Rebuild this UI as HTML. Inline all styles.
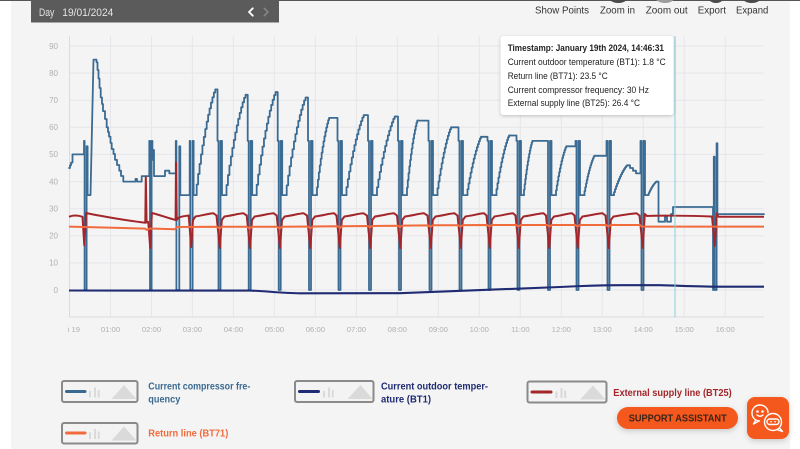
<!DOCTYPE html>
<html><head><meta charset="utf-8"><style>html,body{margin:0;padding:0;background:#fff}svg{display:block}</style></head>
<body>
<svg width="800" height="449" viewBox="0 0 800 449" xmlns="http://www.w3.org/2000/svg" font-family="'Liberation Sans', sans-serif">
<defs>
<filter id="sh" x="-10%" y="-10%" width="120%" height="130%"><feDropShadow dx="0" dy="1" stdDeviation="1.5" flood-color="#000" flood-opacity="0.22"/></filter>
<filter id="sh2" x="-30%" y="-30%" width="160%" height="180%"><feDropShadow dx="0" dy="2" stdDeviation="3" flood-color="#000" flood-opacity="0.18"/></filter>
</defs>
<rect width="800" height="449" fill="#fff"/>
<rect x="11" y="0" width="779" height="449" fill="#f4f4f4"/>
<rect x="0" y="0" width="800" height="1" fill="#555"/>

<!-- top bar -->
<rect x="31" y="0" width="248" height="22.5" fill="#5b5b5b"/>
<text x="39" y="15.9" font-size="10.8" fill="#e4e4e4" textLength="15.3" lengthAdjust="spacingAndGlyphs">Day</text>
<text x="62.3" y="15.9" font-size="10.8" fill="#e4e4e4" textLength="51" lengthAdjust="spacingAndGlyphs">19/01/2024</text>
<path d="M252.8 8.3 L249 12 L252.8 15.7" fill="none" stroke="#fff" stroke-width="1.8" stroke-linecap="round" stroke-linejoin="round"/>
<path d="M264.2 8.3 L268 12 L264.2 15.7" fill="none" stroke="#8a8a8a" stroke-width="1.4" stroke-linecap="round" stroke-linejoin="round"/>

<!-- top buttons -->
<ellipse cx="618.3" cy="-6" rx="11.7" ry="9" fill="#4a4a4a"/>
<ellipse cx="665" cy="-6" rx="11.7" ry="9" fill="#9c9c9c"/>
<ellipse cx="716" cy="-6" rx="9.5" ry="9" fill="#4a4a4a"/>
<ellipse cx="751.7" cy="-6" rx="11.7" ry="9" fill="#4a4a4a"/>
<g font-size="10" fill="#333">
<text x="535" y="13.6" textLength="54" lengthAdjust="spacingAndGlyphs">Show Points</text>
<text x="600" y="13.6" textLength="35" lengthAdjust="spacingAndGlyphs">Zoom in</text>
<text x="645.7" y="13.6" textLength="42" lengthAdjust="spacingAndGlyphs">Zoom out</text>
<text x="697.7" y="13.6" textLength="28.3" lengthAdjust="spacingAndGlyphs">Export</text>
<text x="736" y="13.6" textLength="32.3" lengthAdjust="spacingAndGlyphs">Expand</text>
</g>

<!-- grid -->
<g stroke="#e6e6ea" stroke-width="1">
<line x1="69.5" y1="46" x2="764" y2="46"/>
<line x1="69.5" y1="73.1" x2="764" y2="73.1"/>
<line x1="69.5" y1="100.2" x2="764" y2="100.2"/>
<line x1="69.5" y1="127.3" x2="764" y2="127.3"/>
<line x1="69.5" y1="154.4" x2="764" y2="154.4"/>
<line x1="69.5" y1="181.6" x2="764" y2="181.6"/>
<line x1="69.5" y1="208.7" x2="764" y2="208.7"/>
<line x1="69.5" y1="235.8" x2="764" y2="235.8"/>
<line x1="69.5" y1="262.9" x2="764" y2="262.9"/>
<line x1="69.5" y1="290" x2="764" y2="290"/>
<line x1="110.5" y1="36" x2="110.5" y2="317"/>
<line x1="151.5" y1="36" x2="151.5" y2="317"/>
<line x1="192.4" y1="36" x2="192.4" y2="317"/>
<line x1="233.4" y1="36" x2="233.4" y2="317"/>
<line x1="274.4" y1="36" x2="274.4" y2="317"/>
<line x1="315.4" y1="36" x2="315.4" y2="317"/>
<line x1="356.4" y1="36" x2="356.4" y2="317"/>
<line x1="397.3" y1="36" x2="397.3" y2="317"/>
<line x1="438.3" y1="36" x2="438.3" y2="317"/>
<line x1="479.3" y1="36" x2="479.3" y2="317"/>
<line x1="520.3" y1="36" x2="520.3" y2="317"/>
<line x1="561.3" y1="36" x2="561.3" y2="317"/>
<line x1="602.2" y1="36" x2="602.2" y2="317"/>
<line x1="643.2" y1="36" x2="643.2" y2="317"/>
<line x1="684.2" y1="36" x2="684.2" y2="317"/>
<line x1="725.2" y1="36" x2="725.2" y2="317"/>
</g>
<g stroke="#dcdce0" stroke-width="1">
<line x1="69.5" y1="36" x2="69.5" y2="317"/>
<line x1="69.5" y1="317" x2="764" y2="317"/>
</g>

<!-- axis labels -->
<g font-size="8" fill="#b0b0b0" text-anchor="end">
<text x="58" y="48.8">90</text>
<text x="58" y="75.9">80</text>
<text x="58" y="103">70</text>
<text x="58" y="130.1">60</text>
<text x="58" y="157.2">50</text>
<text x="58" y="184.4">40</text>
<text x="58" y="211.5">30</text>
<text x="58" y="238.6">20</text>
<text x="58" y="265.7">10</text>
<text x="58" y="292.8">0</text>
</g>
<g font-size="7.7" fill="#b0b0b0" text-anchor="middle">
<text x="73.8" y="332">i 19</text>
<text x="110.5" y="332">01:00</text>
<text x="151.5" y="332">02:00</text>
<text x="192.4" y="332">03:00</text>
<text x="233.4" y="332">04:00</text>
<text x="274.4" y="332">05:00</text>
<text x="315.4" y="332">06:00</text>
<text x="356.4" y="332">07:00</text>
<text x="397.3" y="332">08:00</text>
<text x="438.3" y="332">09:00</text>
<text x="479.3" y="332">10:00</text>
<text x="520.3" y="332">11:00</text>
<text x="561.3" y="332">12:00</text>
<text x="602.2" y="332">13:00</text>
<text x="643.2" y="332">14:00</text>
<text x="684.2" y="332">15:00</text>
<text x="725.2" y="332">16:00</text>
</g>

<!-- compressor frequency -->
<g fill="none" stroke="#3b6b92" stroke-width="1.8" stroke-linejoin="round" stroke-linecap="round">
<path d="M69 168 H70 V165.3 H71 V162.6 H72.5 V154.4 H84 V140.9 H84.6 V290 H86.6 V146.3 H87.6 V195.1 H90.5 L93.5 59.6 H96.5 V62.3 H97.5 V70 H98.5 V78.5 H99.5 V88 H100.7 V97.5 H102 V104 H103 V111.1 H105 V119 H106.7 V127.3 H108 V132 H109 V136.6 H110.5 V143 H111.7 V149 H113.5 V154 H115 V159.9 H117 V165 H119.3 V170.7 H121 V176 H123.3 V181.6 H135.5 V178.9 H137 V181.6 H141.7 V176.1 H149.3 V140.9 H150 V290 H151.6 V140.9 H152.4 V159.9 H153.2 V150 H154 V176.1 H165 V170.7 H169.3 V173.4 H175.8 V140.9 H176.4 V290 H179.3 V146.3 H180.3 V195.1 H189.7 V140.9 H190.3 V290 H192.6 V140.9 H193.6 V195.1 H196.7"/>
<path d="M216.7 89.4 H217.5 V140.9 H218.5 V290 H220.5 V140.9 H222 V146.3 V195.1 H226.5"/>
<path d="M247 94.8 H247.7 V140.9 H248.7 V290 H250.7 V140.9 H252.2 V146.3 V195.1 H256.7"/>
<path d="M277 92.1 H277.7 V140.9 H278.7 V290 H280.7 V140.9 H282.2 V146.3 V195.1 H286.7"/>
<path d="M307 97.5 H308 V140.9 H309 V290 H311 V140.9 H312.5 V146.3 V195.1 H317"/>
<path d="M330 117.9 H337.5 V140.9 H338.5 V290 H340.5 V140.9 H342 V146.3 V195.1 H346.5"/>
<path d="M365 115.1 H368 V140.9 H369 V290 H371 V140.9 H372.5 V146.3 V195.1 H377"/>
<path d="M396 116.5 H398 V140.9 H399 V290 H401 V140.9 H402.5 V146.3 V195.1 H407"/>
<path d="M418 120.6 H428.5 V140.9 H429.5 V290 H431.5 V140.9 H433 V146.3 V195.1 H437.5"/>
<path d="M452 127.3 H458.5 V140.9 H459.5 V290 H461.5 V140.9 H463 V146.3 V195.1 H467.5"/>
<path d="M482 136.8 H487.5 V140.9 H488.5 V290 H490.5 V140.9 H492 V146.3 V195.1 H496.5"/>
<path d="M510 135.5 H516.5 V140.9 H517.5 V290 H519.5 V140.9 H521 V146.3 V195.1 H524"/>
<path d="M533 140.9 H547 V140.9 H548 V290 H550 V140.9 H551.5 V146.3 V195.1 H556"/>
<path d="M567 146.3 H575.5 V140.9 H576.5 V290 H578.5 V140.9 H580 V146.3 V195.1 H584.5"/>
<path d="M595 155.8 H606.5 V140.9 H607.5 V290 H609.5 V140.9 H611 V146.3 V195.1 H614"/>
<path d="M628 165.3 H630 V168 H633 V170.7 H636 V173.4 H640.5 V140.9 H641.5 V290 H643.5 V140.9 H645 V146.3 V195.1 H648.5"/>
<path d="M657 181.6 H658.5 V221.7 H665 V216.8 H667 V221.7 H671 V214 H673 V207 H713 V290 H713.8 V156.7 H714.6 V290 H716.6 V143.3 H717.4 V214.1 H764"/>
<path vector-effect="non-scaling-stroke" transform="translate(196.7,195.1) scale(1.4286,-1.0573)" d="M0 0V10H1V20H2V29.5H3V38.5H4V47H5V55H6V62.5H7V69.5H8V76H9V82H10V87.5H11V92.5H12V97H13V100H14"/>
<path vector-effect="non-scaling-stroke" transform="translate(226.5,195.1) scale(1.464,-1.0031)" d="M0 0V10H1V20H2V29.5H3V38.5H4V47H5V55H6V62.5H7V69.5H8V76H9V82H10V87.5H11V92.5H12V97H13V100H14"/>
<path vector-effect="non-scaling-stroke" transform="translate(256.7,195.1) scale(1.45,-1.0302)" d="M0 0V10H1V20H2V29.5H3V38.5H4V47H5V55H6V62.5H7V69.5H8V76H9V82H10V87.5H11V92.5H12V97H13V100H14"/>
<path vector-effect="non-scaling-stroke" transform="translate(286.7,195.1) scale(1.45,-0.976)" d="M0 0V10H1V20H2V29.5H3V38.5H4V47H5V55H6V62.5H7V69.5H8V76H9V82H10V87.5H11V92.5H12V97H13V100H14"/>
<path vector-effect="non-scaling-stroke" transform="translate(317,195.1) scale(0.9286,-0.7726)" d="M0 0V10H1V20H2V29.5H3V38.5H4V47H5V55H6V62.5H7V69.5H8V76H9V82H10V87.5H11V92.5H12V97H13V100H14"/>
<path vector-effect="non-scaling-stroke" transform="translate(346.5,195.1) scale(1.321,-0.7997)" d="M0 0V10H1V20H2V29.5H3V38.5H4V47H5V55H6V62.5H7V69.5H8V76H9V82H10V87.5H11V92.5H12V97H13V100H14"/>
<path vector-effect="non-scaling-stroke" transform="translate(377,195.1) scale(1.357,-0.7862)" d="M0 0V10H1V20H2V29.5H3V38.5H4V47H5V55H6V62.5H7V69.5H8V76H9V82H10V87.5H11V92.5H12V97H13V100H14"/>
<path vector-effect="non-scaling-stroke" transform="translate(407,195.1) scale(0.786,-0.7455)" d="M0 0V10H1V20H2V29.5H3V38.5H4V47H5V55H6V62.5H7V69.5H8V76H9V82H10V87.5H11V92.5H12V97H13V100H14"/>
<path vector-effect="non-scaling-stroke" transform="translate(437.5,195.1) scale(1.036,-0.6778)" d="M0 0V10H1V20H2V29.5H3V38.5H4V47H5V55H6V62.5H7V69.5H8V76H9V82H10V87.5H11V92.5H12V97H13V100H14"/>
<path vector-effect="non-scaling-stroke" transform="translate(467.5,195.1) scale(1.036,-0.5829)" d="M0 0V10H1V20H2V29.5H3V38.5H4V47H5V55H6V62.5H7V69.5H8V76H9V82H10V87.5H11V92.5H12V97H13V100H14"/>
<path vector-effect="non-scaling-stroke" transform="translate(496.5,195.1) scale(0.964,-0.5964)" d="M0 0V10H1V20H2V29.5H3V38.5H4V47H5V55H6V62.5H7V69.5H8V76H9V82H10V87.5H11V92.5H12V97H13V100H14"/>
<path vector-effect="non-scaling-stroke" transform="translate(524,195.1) scale(0.643,-0.5422)" d="M0 0V10H1V20H2V29.5H3V38.5H4V47H5V55H6V62.5H7V69.5H8V76H9V82H10V87.5H11V92.5H12V97H13V100H14"/>
<path vector-effect="non-scaling-stroke" transform="translate(556,195.1) scale(0.786,-0.488)" d="M0 0V10H1V20H2V29.5H3V38.5H4V47H5V55H6V62.5H7V69.5H8V76H9V82H10V87.5H11V92.5H12V97H13V100H14"/>
<path vector-effect="non-scaling-stroke" transform="translate(584.5,195.1) scale(0.75,-0.3931)" d="M0 0V10H1V20H2V29.5H3V38.5H4V47H5V55H6V62.5H7V69.5H8V76H9V82H10V87.5H11V92.5H12V97H13V100H14"/>
<path vector-effect="non-scaling-stroke" transform="translate(614,195.1) scale(1,-0.2982)" d="M0 0V10H1V20H2V29.5H3V38.5H4V47H5V55H6V62.5H7V69.5H8V76H9V82H10V87.5H11V92.5H12V97H13V100H14"/>
<path vector-effect="non-scaling-stroke" transform="translate(648.5,195.1) scale(0.607,-0.1356)" d="M0 0V10H1V20H2V29.5H3V38.5H4V47H5V55H6V62.5H7V69.5H8V76H9V82H10V87.5H11V92.5H12V97H13V100H14"/>
</g>

<!-- outdoor temp -->
<path d="M69 290.5 L250 290.6 C265 291 280 293 300 293.3 L400 293.2 L560 287 C580 286 600 285.3 620 285.2 L660 285.2 C680 285.7 700 286.5 720 286.7 L764 286.7" fill="none" stroke="#1f2b72" stroke-width="2.1"/>

<!-- external supply -->
<path fill="none" stroke="#a3262a" stroke-width="2" stroke-linejoin="round" d="M69 216.8 C72 215.5 77 215 82.5 216.8 L84.3 245.3 L86.2 213 C100 216 130 221 145.3 222.7 L145.8 177.2 L146.6 222.5 L148.3 222 L150.2 248 L151.9 213 C160 215 168 218 175.6 220 L176 162.6 L176.8 220 L178 218 C182 216 186 216 188.7 215.5 L191.2 247 L193 220 L195.5 216.5 C202 215.5 209 213.5 213.5 213.3
L216.5 215.5 L219.8 248 L221.8 220 L224.5 216.5 C231.5 215.5 239.5 213.5 243.5 213.3
L246.7 215.5 L250 248 L252 220 L254.7 216.5 C261.7 215.5 269.7 213.5 273.7 213.3
L276.7 215.5 L280 248 L282 220 L284.7 216.5 C291.7 215.5 299.7 213.5 303.7 213.3
L307 215.5 L310.3 248 L312.3 220 L315 216.5 C322 215.5 330 213.5 334 213.3
L336.5 215.5 L339.8 248 L341.8 220 L344.5 216.5 C351.5 215.5 359.5 213.5 363.5 213.3
L367 215.5 L370.3 248 L372.3 220 L375 216.5 C382 215.5 390 213.5 394 213.3
L397 215.5 L400.3 248 L402.3 220 L405 216.5 C412 215.5 420 213.5 424 213.3
L427.5 215.5 L430.8 248 L432.8 220 L435.5 216.5 C442.5 215.5 450.5 213.5 454.5 213.3
L457.5 215.5 L460.8 248 L462.8 220 L465.5 216.5 C472.5 215.5 480 213.5 484 213.3
L486.5 215.5 L489.8 248 L491.8 220 L494.5 216.5 C501.5 215.5 509 213.5 513 213.3
L515.5 215.5 L518.8 248 L520.8 220 L523.5 216.5 C530.5 215.5 539 213.5 543.5 213.3
L546 215.5 L549.3 248 L551.3 220 L554 216.5 C561 215.5 568 213.5 572 213.3
L574.5 215.5 L577.8 248 L579.8 220 L582.5 216.5 C589.5 215.5 598 213.5 602.5 213.3
L605.5 215.5 L608.8 248 L610.8 220 L613.5 216.5 C620.5 215.5 630 213.5 636.5 213.3
L639.5 215.5 L642.8 248 L644.8 214 L647 216 C655 215.5 690 215.5 711 216.5
L712 216.5 L714.8 246 L716.8 213.5 L718.5 216.8 L764 216.8"/>

<!-- return line -->
<path fill="none" stroke="#f26b3d" stroke-width="2" stroke-linejoin="round" d="M69 226.6 L145 228.6 L147 230 L150 228.5 L175 229.2 L177 227 L217 226.8 L219.5 228.5 L222 226.8 L247 226.8 L249.5 228.5 L252 226.8 L277 226.8 L279.5 228.5 L282 226.8 L308 226.5 L310.5 228.3 L313 226.5 L338 226.3 L340 228 L342 226.2 L368 226 L370 227.5 L372 226 L398 225.8 L400 227.3 L402 225.6 L428 225.4 L430.5 226.8 L433 225.3 L458 225.2 L460.5 226.6 L463 225.1 L487 225 L489.5 226.5 L492 225 L516 225 L518.5 226.5 L521 225 L547 225 L549.5 226.5 L552 225 L575 225 L577.5 226.5 L580 225 L606 225 L608.5 226.5 L611 225 L640 225 L642 226.6 L764 226.6"/>

<!-- cursor line -->
<line x1="675" y1="36" x2="675" y2="317" stroke="#86d0dc" stroke-width="1"/>

<!-- tooltip -->
<rect x="500.5" y="36" width="173" height="79" rx="3" fill="#fff" filter="url(#sh)"/>
<g font-size="9" fill="#222">
<text x="507.7" y="51.2" font-weight="bold" textLength="156.3" lengthAdjust="spacingAndGlyphs">Timestamp: January 19th 2024, 14:46:31</text>
<text x="507.7" y="65.2" textLength="158" lengthAdjust="spacingAndGlyphs">Current outdoor temperature (BT1): 1.8 °C</text>
<text x="507.7" y="79.2" textLength="100" lengthAdjust="spacingAndGlyphs">Return line (BT71): 23.5 °C</text>
<text x="507.7" y="92.8" textLength="141.3" lengthAdjust="spacingAndGlyphs">Current compressor frequency: 30 Hz</text>
<text x="507.7" y="105.8" textLength="132.3" lengthAdjust="spacingAndGlyphs">External supply line (BT25): 26.4 °C</text>
</g>

<!-- legend -->
<g>
<rect x="62" y="381" width="75.5" height="21" rx="2" fill="#f3f3f3" stroke="#8a8a8a" stroke-width="2"/>
<line x1="66.5" y1="391.5" x2="85" y2="391.5" stroke="#3a6a91" stroke-width="3" stroke-linecap="round"/>
<g fill="#dadada"><rect x="89" y="391" width="2" height="6.5"/><rect x="94" y="387.5" width="2" height="10"/><rect x="97.7" y="390" width="2" height="7.5"/><path d="M111.5 399 L124 385 L136.5 399Z"/></g>
<text font-size="10.5" font-weight="bold" fill="#3a6a91"><tspan x="148.3" y="389.5" textLength="102" lengthAdjust="spacingAndGlyphs">Current compressor fre-</tspan><tspan x="148.3" y="402.5" textLength="32" lengthAdjust="spacingAndGlyphs">quency</tspan></text>

<rect x="295" y="381" width="78.5" height="21" rx="2" fill="#f3f3f3" stroke="#8a8a8a" stroke-width="2"/>
<line x1="299.5" y1="391.5" x2="318.5" y2="391.5" stroke="#1f2b72" stroke-width="3" stroke-linecap="round"/>
<g fill="#dadada"><rect x="323" y="391" width="2" height="6.5"/><rect x="328" y="387.5" width="2" height="10"/><rect x="331.7" y="390" width="2" height="7.5"/><path d="M347.5 399 L360.5 385 L372.5 399Z"/></g>
<text font-size="10.5" font-weight="bold" fill="#1f2b72"><tspan x="381" y="389.5" textLength="107" lengthAdjust="spacingAndGlyphs">Current outdoor temper-</tspan><tspan x="381" y="402.5" textLength="50" lengthAdjust="spacingAndGlyphs">ature (BT1)</tspan></text>

<rect x="527.5" y="381.5" width="79" height="21" rx="2" fill="#f3f3f3" stroke="#8a8a8a" stroke-width="2"/>
<line x1="532" y1="392" x2="551" y2="392" stroke="#a3262a" stroke-width="3" stroke-linecap="round"/>
<g fill="#dadada"><rect x="555.5" y="391.5" width="2" height="6.5"/><rect x="560.5" y="388" width="2" height="10"/><rect x="564.2" y="390.5" width="2" height="7.5"/><path d="M580 399.5 L593 385.5 L605.5 399.5Z"/></g>
<text x="613.3" y="396" font-size="10.5" font-weight="bold" fill="#a3262a" textLength="118.4" lengthAdjust="spacingAndGlyphs">External supply line (BT25)</text>

<rect x="62" y="423" width="75.5" height="20.5" rx="2" fill="#f3f3f3" stroke="#8a8a8a" stroke-width="2"/>
<line x1="66.5" y1="433" x2="85" y2="433" stroke="#f26b3d" stroke-width="3" stroke-linecap="round"/>
<g fill="#dadada"><rect x="89" y="432.5" width="2" height="6.5"/><rect x="94" y="429" width="2" height="10"/><rect x="97.7" y="431.5" width="2" height="7.5"/><path d="M111.5 440.5 L124 426.5 L136.5 440.5Z"/></g>
<text x="148.3" y="436.7" font-size="10.5" font-weight="bold" fill="#f26b3d" textLength="80" lengthAdjust="spacingAndGlyphs">Return line (BT71)</text>
</g>

<!-- support assistant -->
<rect x="617" y="407" width="121" height="22" rx="11" fill="#f4581c" filter="url(#sh2)"/>
<text x="628.7" y="421.6" font-size="10" font-weight="bold" fill="#3e2418" textLength="98" lengthAdjust="spacingAndGlyphs">SUPPORT ASSISTANT</text>
<rect x="747" y="397" width="42" height="42" rx="8" fill="#f4581c" filter="url(#sh2)"/>
<g fill="none" stroke="#fff" stroke-width="1.4" stroke-linecap="round" stroke-linejoin="round">
<path d="M759.5 421 C754 420.5 752 416.5 752 413 C752 408.5 755.5 405 760 405 C764.5 405 768 408.5 768 412.5 M755.5 420.5 L753.5 424 L758 421.5"/>
<circle cx="757.5" cy="411.5" r="0.6" fill="#fff"/>
<circle cx="762.5" cy="411.5" r="0.6" fill="#fff"/>
<path d="M757 415 Q760 417.5 763 415"/>
<circle cx="773" cy="422" r="8.5" fill="#f4581c"/>
<rect x="767" y="419" width="12" height="5.5" rx="2.7"/>
<path d="M779.5 428 L782.5 431.5 L777.5 429.8"/>
</g>
<circle cx="771" cy="421.7" r="0.8" fill="#fff"/>
<circle cx="775" cy="421.7" r="0.8" fill="#fff"/>
</svg>
</body></html>
